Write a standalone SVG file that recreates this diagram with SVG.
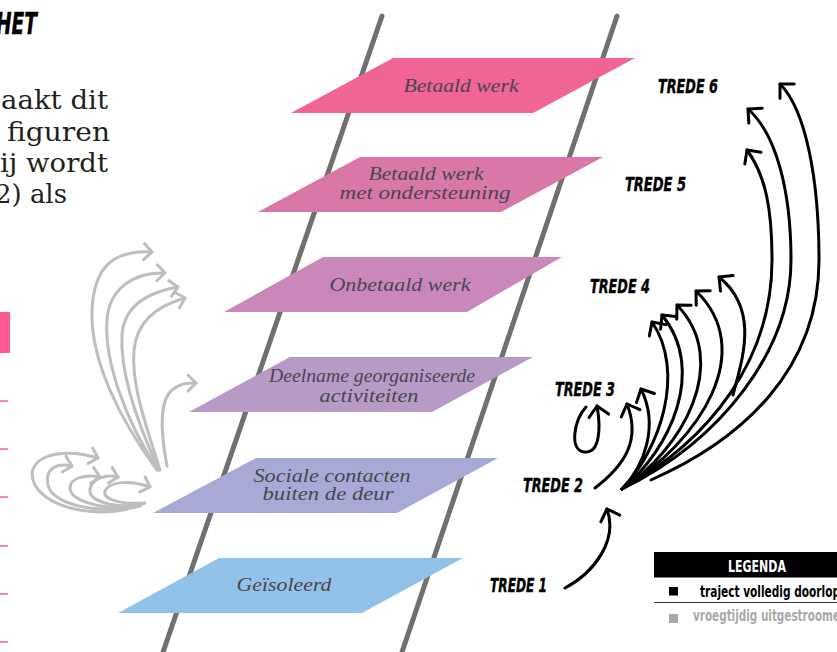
<svg xmlns="http://www.w3.org/2000/svg" width="837" height="652" viewBox="0 0 837 652">
<style>
.rail{stroke:#707070;stroke-width:5;stroke-linecap:round;fill:none}
.step text{font-family:"Liberation Serif","DejaVu Serif",serif;font-style:italic;font-size:19px;fill:#4a4550;text-anchor:middle}
.lbl{font-family:"DejaVu Sans Condensed","DejaVu Sans",sans-serif;font-weight:bold;font-style:italic;font-size:19px;fill:#000;stroke:#000;stroke-width:0.4}
.body{font-family:"DejaVu Serif","Liberation Serif",serif;font-size:26px;fill:#231f20}
.leg{font-family:"DejaVu Sans Condensed","DejaVu Sans",sans-serif;font-weight:bold;font-size:15px}
.blk{fill:none;stroke:#000;stroke-width:3;stroke-linecap:round;marker-end:url(#ahb)}
.gry{fill:none;stroke:#bcbec0;stroke-width:3;stroke-linecap:round;marker-end:url(#ahg)}
.pk{stroke:#ee5f95;stroke-width:1.5}
</style>
<defs>
<marker id="ahb" markerUnits="userSpaceOnUse" viewBox="0 0 30 30" refX="15" refY="15" markerWidth="30" markerHeight="30" orient="auto">
<path d="M5,5 L15,15 L5,25" fill="none" stroke="#000" stroke-width="3" stroke-linecap="round" stroke-linejoin="round"/>
</marker>
<marker id="ahg" markerUnits="userSpaceOnUse" viewBox="0 0 30 30" refX="15" refY="15" markerWidth="30" markerHeight="30" orient="auto">
<path d="M7,7 L15,15 L7,23" fill="none" stroke="#bcbec0" stroke-width="3" stroke-linecap="round" stroke-linejoin="round"/>
</marker>
</defs>
<rect width="837" height="652" fill="#fff"/>

<g id="intro-text">
<text x="-4" y="34" class="lbl" style="font-size:30px" textLength="41" lengthAdjust="spacingAndGlyphs">HET</text>
<text x="1" y="109" class="body" textLength="107" lengthAdjust="spacingAndGlyphs">aakt dit</text>
<text x="7" y="141" class="body" textLength="103" lengthAdjust="spacingAndGlyphs">figuren</text>
<text x="0" y="172" class="body" textLength="108" lengthAdjust="spacingAndGlyphs">ij wordt</text>
<text x="-5" y="203" class="body" textLength="72" lengthAdjust="spacingAndGlyphs">2) als</text>
<rect x="0" y="312" width="10" height="41" fill="#ff5a96"/>
<line class="pk" x1="0" y1="401" x2="8" y2="401"/>
<line class="pk" x1="0" y1="449" x2="8" y2="449"/>
<line class="pk" x1="0" y1="497" x2="8" y2="497"/>
<line class="pk" x1="0" y1="546" x2="8" y2="546"/>
<line class="pk" x1="0" y1="594" x2="8" y2="594"/>
<line class="pk" x1="0" y1="642" x2="8" y2="642"/>
</g>

<g id="ladder">
<line class="rail" x1="382" y1="16" x2="161" y2="658"/>
<line class="rail" x1="617" y1="16" x2="400" y2="658"/>
</g>

<g id="step6" class="step">
<polygon points="393,58 635,58 533,113 291,113" fill="#f06496"/>
<text x="461" y="92" textLength="115" lengthAdjust="spacingAndGlyphs">Betaald werk</text>
</g>
<g id="step5" class="step">
<polygon points="360,157 603,157 501,212 258,212" fill="#d977a9"/>
<text x="426" y="180" textLength="115" lengthAdjust="spacingAndGlyphs">Betaald werk</text>
<text x="425" y="199" textLength="171" lengthAdjust="spacingAndGlyphs">met ondersteuning</text>
</g>
<g id="step4" class="step">
<polygon points="323,257 562,257 467,312 224,312" fill="#ca88ba"/>
<text x="400" y="291" textLength="141" lengthAdjust="spacingAndGlyphs">Onbetaald werk</text>
</g>
<g id="step3" class="step">
<polygon points="290,357 533,357 432,412 189,412" fill="#b89ac6"/>
<text x="372" y="382" textLength="206" lengthAdjust="spacingAndGlyphs">Deelname georganiseerde</text>
<text x="369" y="402" textLength="99" lengthAdjust="spacingAndGlyphs">activiteiten</text>
</g>
<g id="step2" class="step">
<polygon points="256,458 498,458 397,513 153,513" fill="#a7aad5"/>
<text x="332" y="482" textLength="157" lengthAdjust="spacingAndGlyphs">Sociale contacten</text>
<text x="328" y="500" textLength="131" lengthAdjust="spacingAndGlyphs">buiten de deur</text>
</g>
<g id="step1" class="step">
<polygon points="219,558 463,558 362,613 118,613" fill="#93c2e8"/>
<text x="284" y="591" textLength="95" lengthAdjust="spacingAndGlyphs">Geïsoleerd</text>
</g>

<g id="labels">
<text class="lbl" x="658" y="93" textLength="60" lengthAdjust="spacingAndGlyphs">TREDE 6</text>
<text class="lbl" x="625" y="191" textLength="61" lengthAdjust="spacingAndGlyphs">TREDE 5</text>
<text class="lbl" x="590" y="293" textLength="60" lengthAdjust="spacingAndGlyphs">TREDE 4</text>
<text class="lbl" x="555" y="396" textLength="60" lengthAdjust="spacingAndGlyphs">TREDE 3</text>
<text class="lbl" x="523" y="492" textLength="60" lengthAdjust="spacingAndGlyphs">TREDE 2</text>
<text class="lbl" x="490" y="592" textLength="57" lengthAdjust="spacingAndGlyphs">TREDE 1</text>
</g>

<g id="connectors">
<path class="blk" d="M565,588 C595,572 618,540 607,509"/>
<path class="blk" d="M586,407 C574,420 569,450 584,452 C600,454 601,428 597,406"/>
<path class="blk" d="M595,488 C625,465 641,440 627,404"/>
<path class="blk" d="M622,489 C645,465 659,425 641,389"/>
<path class="blk" d="M622,489 C660,450 686,372 652,322"/>
<path class="blk" d="M622,489 C670,450 707,370 662,315"/>
<path class="blk" d="M622,489 C682,450 732,362 677,305"/>
<path class="blk" d="M622,489 C702,440 757,350 696,291"/>
<path class="blk" d="M733,395 C742,360 760,310 719,277"/>
<path class="blk" d="M622,489 C710,440 772,360 772,260 C772,210 766,176 747,150"/>
<path class="blk" d="M622,489 C722,440 791,350 791,260 C791,190 776,134 748,109"/>
<path class="blk" d="M651,480 C742,440 819,370 819,260 C819,180 806,110 780,84"/>
<path class="gry" d="M157,470 C120,420 90,360 92,310 C94,265 115,250 152,252"/>
<path class="gry" d="M158,470 C125,420 104,360 107,320 C109,290 132,272 165,273"/>
<path class="gry" d="M159,470 C136,420 120,370 122,335 C124,305 150,292 178,287"/>
<path class="gry" d="M160,470 C146,425 131,385 134,350 C137,320 160,305 185,298"/>
<path class="gry" d="M167,466 C160,430 160,400 172,390 C180,383 188,383 196,383"/>
<path class="gry" d="M145,503 C110,520 50,512 35,485 C22,460 55,445 98,458"/>
<path class="gry" d="M140,506 C100,515 52,505 48,485 C45,470 55,462 72,466"/>
<path class="gry" d="M132,507 C100,510 70,500 70,488 C70,478 85,474 100,477"/>
<path class="gry" d="M136,505 C110,508 88,500 90,489 C92,479 105,474 118,477"/>
<path class="gry" d="M144,503 C118,505 102,498 105,491 C110,481 130,480 150,487"/>
</g>

<g id="legend">
<rect x="654" y="552" width="183" height="25.5" fill="#000"/>
<text class="leg" x="757" y="572" fill="#fff" text-anchor="middle" textLength="58" lengthAdjust="spacingAndGlyphs">LEGENDA</text>
<rect x="669" y="587" width="9" height="8.5" fill="#000"/>
<text class="leg" x="700" y="596.5" fill="#000" textLength="140" lengthAdjust="spacingAndGlyphs">traject volledig doorlop</text>
<line x1="654" y1="602.5" x2="837" y2="602.5" stroke="#333" stroke-width="1.2"/>
<rect x="669" y="614" width="9" height="9" fill="#a7a9ac"/>
<text class="leg" x="693" y="621" fill="#a7a9ac" textLength="147" lengthAdjust="spacingAndGlyphs">vroegtijdig uitgestroome</text>
</g>
</svg>
